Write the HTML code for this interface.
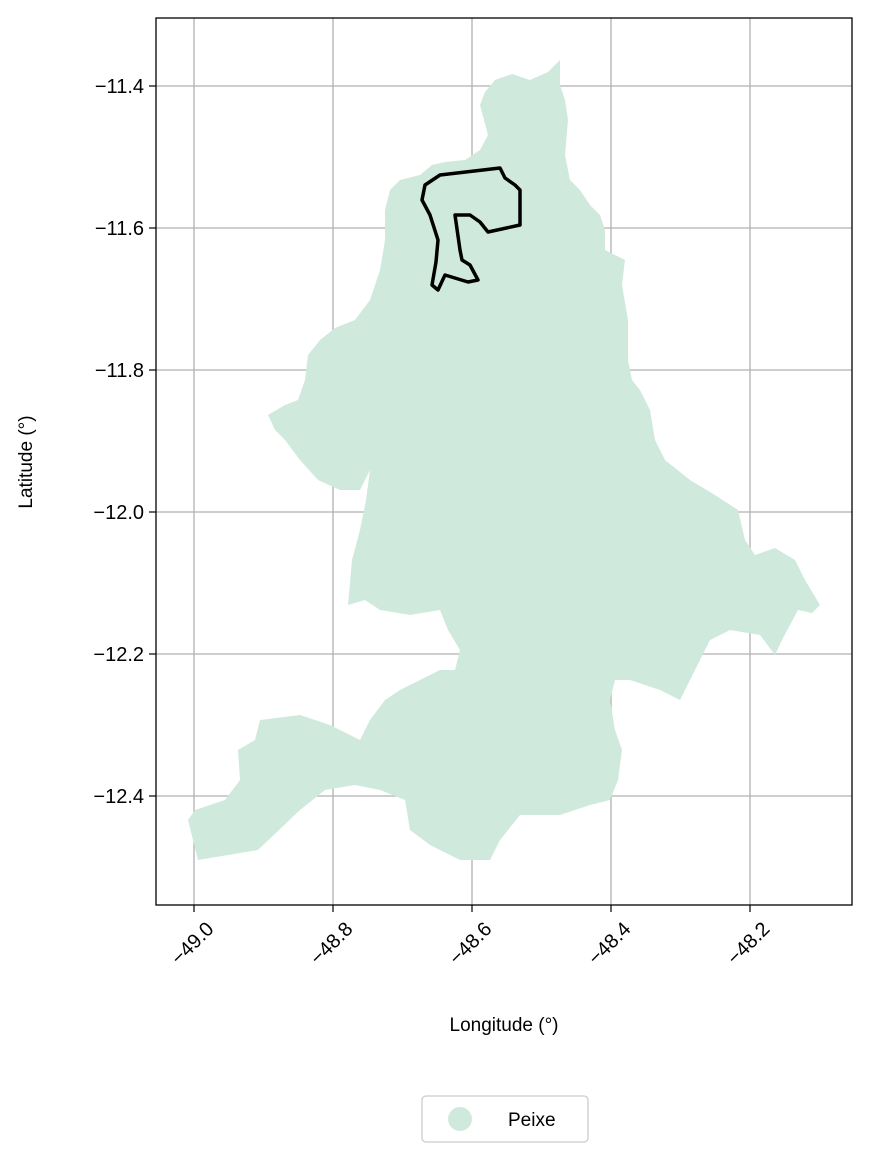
<!DOCTYPE html>
<html><head><meta charset="utf-8"><style>
body{margin:0;background:#fff}
svg text{font-family:"Liberation Sans","DejaVu Sans",sans-serif;fill:#000}
</style></head><body>
<svg id="chart" width="871" height="1163" xmlns="http://www.w3.org/2000/svg">
<rect width="871" height="1163" fill="#fff"/>
<g id="grid"></g>
<g id="shapes"></g>
<rect x="156" y="18" width="696" height="887" fill="none" stroke="#000" stroke-width="1.3"/>
<g id="ticks"></g>
<text x="504" y="1031" font-size="19" text-anchor="middle">Longitude (°)</text>
<text transform="translate(32,462) rotate(-90)" font-size="19" text-anchor="middle">Latitude (°)</text>
<g>
<rect x="422" y="1096" width="166" height="46" rx="4" fill="#fff" stroke="#ccc" stroke-width="1.3"/>
<circle cx="460" cy="1119" r="12" fill="#cfeadd"/>
<text x="508" y="1126" font-size="19">Peixe</text>
</g>
</svg>
<script>
const xTicks=[-49.0,-48.8,-48.6,-48.4,-48.2];
const yTicks=[-11.4,-11.6,-11.8,-12.0,-12.2,-12.4];
const xTickLabels=["−49.0","−48.8","−48.6","−48.4","−48.2"];
const yTickLabels=["−11.4","−11.6","−11.8","−12.0","−12.2","−12.4"];
const regionPx=[[560,60],[548,72],[530,80],[512,74],[495,80],[485,92],[480,105],[484,120],[488,135],[480,150],[465,160],[445,162],[432,165],[420,175],[400,180],[390,190],[385,210],[385,240],[380,270],[370,300],[355,320],[335,328],[320,340],[308,355],[305,380],[298,400],[285,405],[268,415],[275,430],[285,440],[300,460],[318,480],[340,490],[360,490],[370,470],[366,500],[360,530],[352,560],[348,605],[365,600],[380,610],[410,615],[440,610],[448,630],[460,650],[455,670],[440,670],[420,680],[400,690],[385,700],[370,720],[360,740],[330,725],[300,715],[260,720],[255,740],[238,750],[240,780],[225,800],[195,810],[188,820],[198,860],[258,850],[300,810],[325,790],[355,785],[380,790],[405,800],[410,830],[430,845],[460,860],[490,860],[500,840],[520,815],[560,815],[590,805],[610,800],[618,780],[622,750],[615,730],[610,700],[615,680],[630,680],[660,690],[680,700],[690,680],[710,640],[730,630],[760,635],[775,655],[782,640],[798,610],[812,613],[820,605],[805,580],[795,560],[775,548],[755,555],[745,540],[738,510],[715,495],[690,480],[665,460],[655,440],[650,410],[640,390],[632,380],[628,360],[628,320],[622,285],[625,260],[605,250],[605,230],[600,215],[590,205],[580,190],[570,180],[565,155],[568,120],[565,100],[560,85]];
const outlinePx=[[425,185],[440,175],[500,168],[505,178],[515,185],[520,190],[520,225],[488,232],[480,222],[470,215],[455,215],[460,250],[462,260],[470,265],[478,280],[468,282],[445,275],[438,290],[432,285],[436,262],[438,240],[430,215],[422,200],[425,185]];
const regionLon=regionPx.map(p=>-49+(p[0]-194)/695), regionLat=regionPx.map(p=>-11.4-(p[1]-86)/710);
const outlineLon=outlinePx.map(p=>-49+(p[0]-194)/695), outlineLat=outlinePx.map(p=>-11.4-(p[1]-86)/710);
const X=v=>194+(v+49)*695, Y=v=>86+(-11.4-v)*710;
const NS="http://www.w3.org/2000/svg";
const mk=(t,a,par)=>{const e=document.createElementNS(NS,t);for(const k in a)e.setAttribute(k,a[k]);document.getElementById(par).appendChild(e);return e;};
xTicks.forEach((v,i)=>{
 const l=mk('line',{x1:X(v),x2:X(v),y1:18,y2:905,stroke:'#b0b0b0','stroke-width':1.3},'grid');
 
 
 const t=mk('line',{x1:X(v),x2:X(v),y1:905,y2:912,stroke:'#000','stroke-width':1.2},'ticks');
 
 
 const tx=mk('text',{transform:`translate(${X(v)+3},${948}) rotate(-45)`,'font-size':20,'text-anchor':'middle'},'ticks');
 tx.textContent=xTickLabels[i];
 
 
});
yTicks.forEach((v,i)=>{
 const l=mk('line',{y1:Y(v),y2:Y(v),x1:156,x2:852,stroke:'#b0b0b0','stroke-width':1.3},'grid');
 
 
 const t=mk('line',{y1:Y(v),y2:Y(v),x1:149,x2:156,stroke:'#000','stroke-width':1.2},'ticks');
 
 
 const tx=mk('text',{x:144,y:Y(v)+7,'font-size':20,'text-anchor':'end'},'ticks');
 tx.textContent=yTickLabels[i];
 
 
});
const pts=(lo,la)=>lo.map((v,i)=>X(v).toFixed(1)+','+Y(la[i]).toFixed(1)).join(' ');
const r=mk('polygon',{points:pts(regionLon,regionLat),fill:'#cfeadd'},'shapes');


const o=mk('polygon',{points:pts(outlineLon,outlineLat),fill:'none',stroke:'#000','stroke-width':3.5,'stroke-linejoin':'round'},'shapes');


</script>
</body></html>
